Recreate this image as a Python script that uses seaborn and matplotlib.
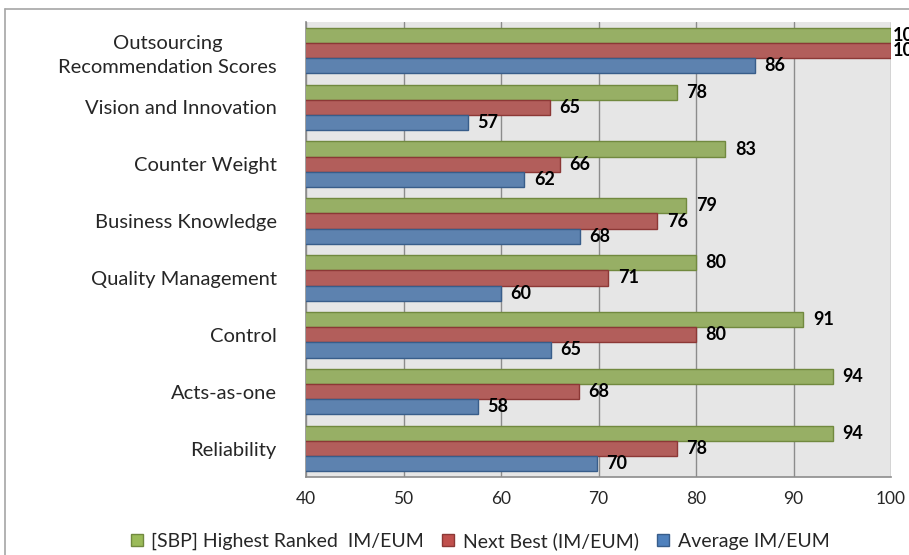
import matplotlib
matplotlib.use("Agg")
import matplotlib.pyplot as plt
import seaborn as sns
import pandas as pd
from matplotlib.lines import Line2D

categories = ["Outsourcing\nRecommendation Scores", "Vision and Innovation", "Counter Weight",
              "Business Knowledge", "Quality Management", "Control", "Acts-as-one", "Reliability"]
series = ["[SBP] Highest Ranked  IM/EUM", "Next Best (IM/EUM)", "Average IM/EUM"]
highest = [100, 78, 83, 79, 80, 91, 94, 94]
next_best = [100, 65, 66, 76, 71, 80, 68, 78]
average = [86, 56.6, 62.4, 68.1, 60, 65.1, 57.6, 69.8]
x_ticks = [40, 50, 60, 70, 80, 90, 100]

colors = ["#9BBB59", "#C0504D", "#4F81BD"]
edges = ["#71893F", "#8C3836", "#385D8A"]

rows = []
for s, vals in zip(series, [highest, next_best, average]):
    for c, v in zip(categories, vals):
        rows.append({"cat": c, "series": s, "value": v})
df = pd.DataFrame(rows)

sns.set_theme(style="white")
plt.rcParams['font.family'] = ['Lato', 'DejaVu Sans']

fig = plt.figure(figsize=(9.09, 5.55), dpi=100)
ax = fig.add_axes([306/909, 1-477/555, (891-306)/909, (477-22)/555])
ax.set_facecolor("#E6E6E6")

sns.barplot(data=df, y="cat", x="value", hue="series", orient="h", order=categories,
            hue_order=series, palette=colors, width=0.8, ax=ax, legend=False,
            edgecolor="none", linewidth=0, zorder=3)

for i, cont in enumerate(ax.containers):
    for bar in cont:
        bar.set_edgecolor(edges[i])
        bar.set_linewidth(1.0)
        bar.set_zorder(3)
    vals = [highest, next_best, average][i]
    labels = ["%.0f" % v for v in vals]
    texts = ax.bar_label(cont, labels=labels, padding=7, fontsize=13, fontweight="bold",
                         color="black", clip_on=False)
    for t, v in zip(texts, vals):
        if v >= 100:
            t.xyann = (1, t.xyann[1])

ax.set_xlim(40, 100)
ax.set_xticks(x_ticks)
ax.set_xticklabels([str(t) for t in x_ticks], fontsize=12.5)
ax.tick_params(axis="x", length=0, pad=10)
ax.tick_params(axis="y", length=0, pad=21, labelsize=14.5)
for lab in ax.get_yticklabels():
    lab.set_multialignment("center")
    lab.set_linespacing(1.5)
ax.set_xlabel("")
ax.set_ylabel("")
ax.grid(axis="x", color="#8C8C8C", linewidth=1.0, zorder=0)
ax.set_axisbelow(True)
for side in ["top", "right"]:
    ax.spines[side].set_visible(False)
for side in ["left", "bottom"]:
    ax.spines[side].set_color("#8C8C8C")
    ax.spines[side].set_linewidth(1.2)

handles = [Line2D([0], [0], marker="s", linestyle="none", markersize=9,
                  markerfacecolor=colors[i], markeredgecolor=edges[i]) for i in range(3)]
fig.legend(handles, series, loc="center", bbox_to_anchor=(476/909, 1-541/555), ncol=3,
           frameon=False, fontsize=14, handletextpad=0.0, columnspacing=0.5,
           handlelength=1.5)

fig.add_artist(Line2D([5/909, 1], [1-9/555, 1-9/555], transform=fig.transFigure,
                      color="#A6A6A6", linewidth=1.2))
fig.add_artist(Line2D([5/909, 5/909], [0, 1-9/555], transform=fig.transFigure,
                      color="#A6A6A6", linewidth=1.2))

fig.savefig("out.png", dpi=100)
